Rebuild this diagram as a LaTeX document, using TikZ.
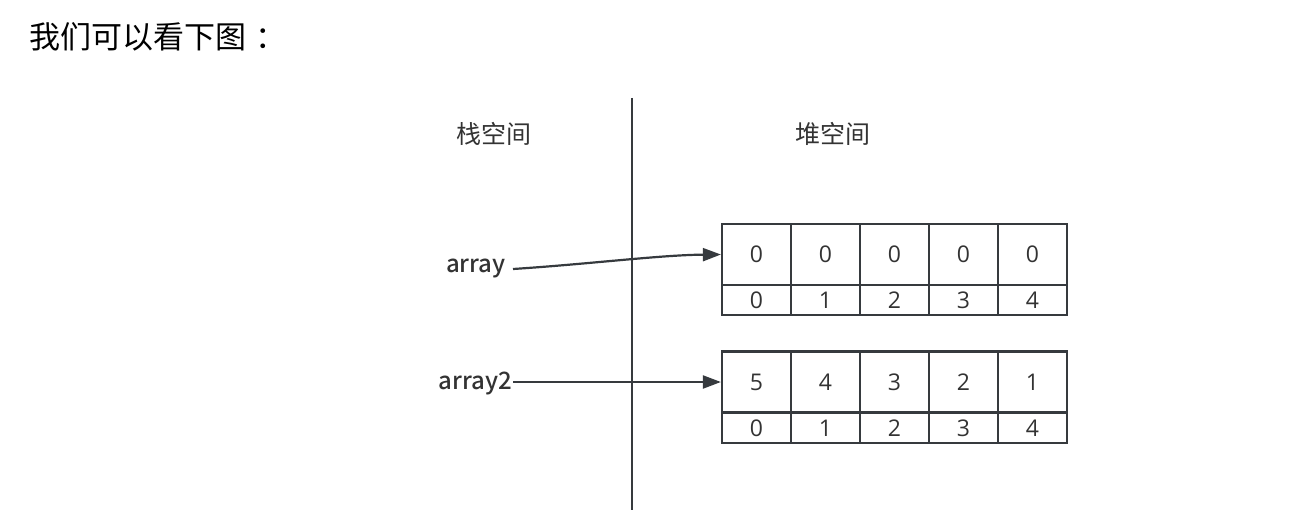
\documentclass[tikz,border=0pt]{standalone}
\usepackage{fontspec}
\setmainfont{Noto Sans CJK SC}
\newfontfamily\medfont{Noto Sans CJK SC Medium}
\newfontfamily\digitfont{Open Sans}
\usetikzlibrary{arrows.meta}
\definecolor{linegray}{HTML}{363A3E}
\definecolor{textgray}{HTML}{333333}

\begin{document}
\begin{tikzpicture}[x=1pt,y=-1pt]
    % Define styles
    \tikzstyle{cell} = [rectangle, minimum width=69pt, inner sep=0pt, draw=linegray, line width=2.2pt, text=textgray, font=\digitfont\fontsize{23}{23}\selectfont]
    \tikzstyle{valcell} = [cell, minimum height=61pt]
    \tikzstyle{idxcell} = [cell, minimum height=30pt]
    \tikzstyle{varname} = [inner sep=1pt, text=textgray, font=\medfont\fontsize{24}{24}\selectfont]
    \tikzstyle{heading} = [inner sep=0pt, text=textgray, font=\fontsize{25}{25}\selectfont]
    \tikzstyle{divider} = [draw=linegray, line width=2.5pt]
    \tikzstyle{ptr} = [draw=linegray, line width=2.2pt, -{Triangle[length=18pt,width=13pt]}]

    \useasboundingbox (0,0) rectangle (1290,524);

    % Title
    \node[anchor=west, inner sep=0pt, font=\fontsize{31}{31}\selectfont] (title) at (29,37) {我们可以看下图\hspace{0.3em}：};

    % Stack / heap divider
    \coordinate (divtop) at (632,98);
    \coordinate (divbot) at (632,510);
    \draw[divider] (divtop) -- (divbot);
    \node[heading] (stack) at (494,134) {栈空间};
    \node[heading] (heap) at (833,134) {堆空间};

    % Array 1
    \node[valcell] (a0) at (756.5,254.5) {0};
    \node[valcell] (a1) at (825.5,254.5) {0};
    \node[valcell] (a2) at (894.5,254.5) {0};
    \node[valcell] (a3) at (963.5,254.5) {0};
    \node[valcell] (a4) at (1032.5,254.5) {0};
    \node[idxcell] (ai0) at (756.5,300) {0};
    \node[idxcell] (ai1) at (825.5,300) {1};
    \node[idxcell] (ai2) at (894.5,300) {2};
    \node[idxcell] (ai3) at (963.5,300) {3};
    \node[idxcell] (ai4) at (1032.5,300) {4};

    % Array 2
    \node[valcell] (b0) at (756.5,382) {5};
    \node[valcell] (b1) at (825.5,382) {4};
    \node[valcell] (b2) at (894.5,382) {3};
    \node[valcell] (b3) at (963.5,382) {2};
    \node[valcell] (b4) at (1032.5,382) {1};
    \node[idxcell] (bi0) at (756.5,428) {0};
    \node[idxcell] (bi1) at (825.5,428) {1};
    \node[idxcell] (bi2) at (894.5,428) {2};
    \node[idxcell] (bi3) at (963.5,428) {3};
    \node[idxcell] (bi4) at (1032.5,428) {4};

    % References
    \node[varname, anchor=east] (array) at (507,268) {array};
    \node[varname, anchor=east] (array2) at (513,383) {array2};
    \draw[ptr] (513,269) .. controls (590,264) and (660,255) .. (a0.west);
    \draw[ptr] (array2.east |- 0,382) -- (b0.west);

\end{tikzpicture}
\end{document}
